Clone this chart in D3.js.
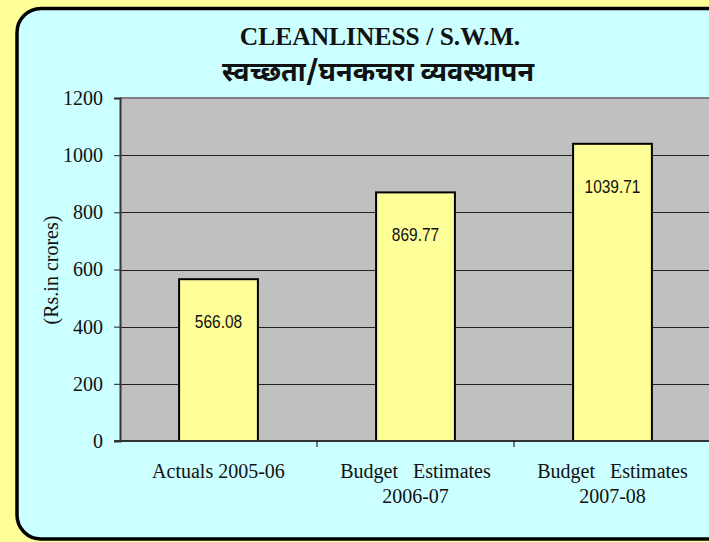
<!DOCTYPE html>
<html>
<head>
<meta charset="utf-8">
<script src="https://cdn.jsdelivr.net/npm/d3@7"></script>
<style>
	body { margin: 0; background: #ffff99; }
	svg { display: block; }
</style>
</head>
<body>
<script>
var categories = [["Actuals 2005-06"], ["Budget   Estimates", "2006-07"], ["Budget   Estimates", "2007-08"]];
var values = [566.08, 869.77, 1039.71];
var valueLabels = ["566.08", "869.77", "1039.71"];
var yTicks = [0, 200, 400, 600, 800, 1000, 1200];

var width = 709, height = 542;
var plotLeft = 120, plotTop = 98, plotBottom = 441, plotRight = 711;
var serif = "Liberation Serif, Times New Roman, serif";

var svg = d3.select("body")
	.append("svg")
	.attr("width", width)
	.attr("height", height);

// outer panel
svg.append("rect")
	.attr("x", 17)
	.attr("y", 8.5)
	.attr("width", 720)
	.attr("height", 530.5)
	.attr("rx", 24)
	.attr("fill", "#ccffff")
	.attr("stroke", "black")
	.style("stroke-width", 3.5);

svg.append("text")
	.attr("x", 380)
	.attr("y", 45)
	.attr("text-anchor", "middle")
	.attr("font-family", serif)
	.attr("font-weight", "bold")
	.attr("font-size", "25.5px")
	.attr("fill", "#111")
	.text("CLEANLINESS / S.W.M.");

svg.append("text")
	.attr("x", 378)
	.attr("y", 81)
	.attr("text-anchor", "middle")
	.attr("font-family", "Noto Sans Devanagari, Noto Sans, Lohit Devanagari, sans-serif")
	.attr("font-weight", "bold")
	.attr("font-size", "27px")
	.attr("fill", "#111")
	.text("स्वच्छता/घनकचरा व्यवस्थापन");

var x = d3.scaleBand()
	.domain(d3.range(values.length))
	.range([plotLeft, plotRight])
	.paddingInner(0.6)
	.paddingOuter(0.3);

var y = d3.scaleLinear()
	.domain([0, 1200])
	.range([plotBottom, plotTop]);

// plot background
svg.append("rect")
	.attr("x", plotLeft)
	.attr("y", plotTop)
	.attr("width", plotRight - plotLeft)
	.attr("height", plotBottom - plotTop)
	.attr("fill", "#c0c0c0");

svg.append("line")
	.attr("x1", plotLeft).attr("x2", plotRight)
	.attr("y1", plotTop).attr("y2", plotTop)
	.attr("stroke", "#808080")
	.style("stroke-width", 2);

// gridlines
svg.append("g")
	.selectAll("line")
	.data(yTicks.filter(function(d) { return d > 0 && d < 1200; }))
	.join("line")
	.attr("x1", plotLeft).attr("x2", plotRight)
	.attr("y1", function(d) { return Math.round(y(d)) + 0.5; })
	.attr("y2", function(d) { return Math.round(y(d)) + 0.5; })
	.attr("stroke", "#222");

// bars
svg.append("g")
	.selectAll("rect")
	.data(values)
	.join("rect")
	.attr("x", function(d, i) { return x(i); })
	.attr("y", function(d) { return y(d); })
	.attr("width", x.bandwidth())
	.attr("height", function(d) { return y(0) - y(d); })
	.attr("fill", "#ffff99")
	.attr("stroke", "black")
	.style("stroke-width", 2);

// value labels (narrow look)
svg.append("g")
	.selectAll("text")
	.data(values)
	.join("text")
	.attr("transform", function(d, i) {
		return "translate(" + (x(i) + x.bandwidth() / 2) + "," + (y(d) + 49) + ")scale(0.86,1)";
	})
	.attr("text-anchor", "middle")
	.attr("font-family", "Liberation Sans Narrow, Arial Narrow, Liberation Sans, sans-serif")
	.attr("font-size", "18px")
	.attr("fill", "#111")
	.text(function(d, i) { return valueLabels[i]; });

// y axis
var yAxis = svg.append("g")
	.attr("transform", "translate(" + plotLeft + ",0)")
	.call(d3.axisLeft(y).tickValues(yTicks).tickFormat(d3.format("d")).tickSize(6).tickPadding(11));
yAxis.select(".domain").attr("stroke", "#333").style("stroke-width", 2);
yAxis.selectAll(".tick line").attr("stroke", "#222");
yAxis.selectAll("text")
	.attr("font-family", serif)
	.attr("font-size", "20px")
	.attr("fill", "#111");

// x axis
svg.append("line")
	.attr("x1", plotLeft - 6).attr("x2", plotRight)
	.attr("y1", plotBottom).attr("y2", plotBottom)
	.attr("stroke", "#333")
	.style("stroke-width", 2);

svg.append("g")
	.selectAll("line")
	.data(d3.range(1, values.length))
	.join("line")
	.attr("x1", function(d) { return x(d) - x.step() * x.paddingInner() / 2; })
	.attr("x2", function(d) { return x(d) - x.step() * x.paddingInner() / 2; })
	.attr("y1", plotBottom).attr("y2", plotBottom + 6)
	.attr("stroke", "black");

var cat = svg.append("g")
	.selectAll("text")
	.data(categories)
	.join("text")
	.attr("x", function(d, i) { return x(i) + x.bandwidth() / 2; })
	.attr("y", 478)
	.attr("text-anchor", "middle")
	.attr("font-family", serif)
	.attr("font-size", "20px")
	.attr("fill", "#111")
	.style("white-space", "pre");

cat.selectAll("tspan")
	.data(function(d) { return d; })
	.join("tspan")
	.attr("x", function() { return d3.select(this.parentNode).attr("x"); })
	.attr("dy", function(d, j) { return j === 0 ? 0 : 25; })
	.text(function(d) { return d; });

svg.append("text")
	.attr("transform", "translate(58,270)rotate(-90)")
	.attr("text-anchor", "middle")
	.attr("font-family", serif)
	.attr("font-size", "20px")
	.attr("fill", "#111")
	.text("(Rs.in crores)");
</script>
</body>
</html>
